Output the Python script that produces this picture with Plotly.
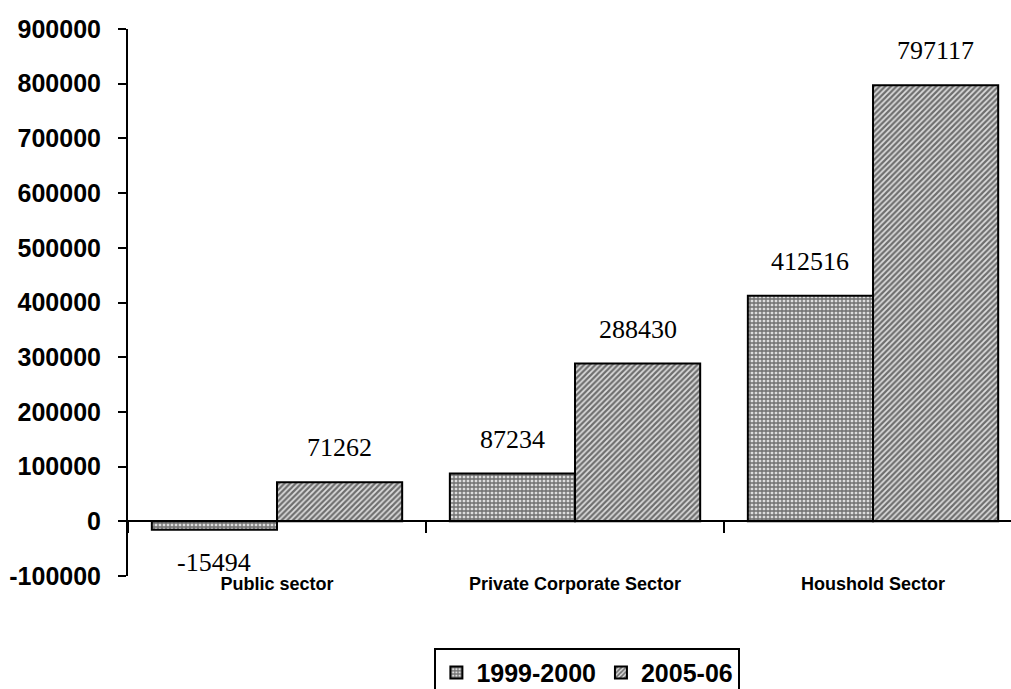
import plotly.graph_objects as go

# Sector values for the two survey years
sectors = ["Public sector", "Private Corporate Sector", "Houshold Sector"]
values_1999 = [-15494, 87234, 412516]
values_2005 = [71262, 288430, 797117]
series_names = ["1999-2000", "2005-06"]
y_ticks = [-100000, 0, 100000, 200000, 300000, 400000, 500000, 600000, 700000, 800000, 900000]

Y_MIN, Y_MAX = -100000, 900000
BARGAP = 0.16
X_RANGE = [-0.5, 2.463]

bold_sans = dict(family="Arial, Liberation Sans, sans-serif", size=25, color="black", weight="bold")
narrow_sans = dict(family="Liberation Sans Narrow, Arial Narrow, Liberation Sans, sans-serif",
                   size=18, color="black", weight="bold")
serif = dict(family="Times New Roman, Liberation Serif, serif", size=26, color="black")

fig = go.Figure()

fig.add_trace(go.Bar(
    name=series_names[0], x=sectors, y=values_1999,
    marker=dict(color="#dddddd", line=dict(color="black", width=2),
                pattern=dict(shape="+", size=4, solidity=0.55, fgcolor="black", bgcolor="#dddddd")),
))
fig.add_trace(go.Bar(
    name=series_names[1], x=sectors, y=values_2005,
    marker=dict(color="#dddddd", line=dict(color="black", width=2),
                pattern=dict(shape="/", size=4, solidity=0.55, fgcolor="black", bgcolor="#dddddd")),
))

# invisible helper trace so the zero-line axis is drawn
fig.add_trace(go.Scatter(x=sectors, y=[0, 0, 0], mode="none", xaxis="x2",
                         showlegend=False, hoverinfo="skip"))

# value labels above/below each bar
offset = (1 - BARGAP) / 4
for series, shift in ((values_1999, -offset), (values_2005, offset)):
    for i, v in enumerate(series):
        fig.add_annotation(
            x=i + shift, y=v, xref="x", yref="y", text=str(v), showarrow=False,
            font=serif, yanchor="bottom" if v >= 0 else "top",
            yshift=18 if v >= 0 else -16,
        )

zero_pos = (0 - Y_MIN) / (Y_MAX - Y_MIN)

fig.update_layout(
    width=1011, height=689,
    margin=dict(l=128, r=0, t=29, b=113),
    paper_bgcolor="white", plot_bgcolor="white",
    barmode="group", bargap=BARGAP, bargroupgap=0,
    xaxis=dict(type="category", categoryorder="array", categoryarray=sectors,
               range=X_RANGE, showline=False, ticks="", showgrid=False,
               tickfont=narrow_sans, ticklabelstandoff=-5),
    xaxis2=dict(type="category", categoryorder="array", categoryarray=sectors,
                range=X_RANGE, overlaying="x", anchor="free", position=zero_pos,
                showline=True, linecolor="black", linewidth=2,
                ticks="outside", tickson="boundaries", ticklen=11, tickwidth=2,
                tickcolor="black", showticklabels=False, showgrid=False),
    yaxis=dict(range=[Y_MIN, Y_MAX], tickvals=y_ticks, ticktext=[str(t) for t in y_ticks],
               showline=True, linecolor="black", linewidth=2,
               ticks="outside", ticklen=8, tickwidth=2, tickcolor="black",
               showgrid=False, zeroline=False, tickfont=bold_sans, ticklabelstandoff=12),
    legend=dict(orientation="h", xref="container", yref="container",
                x=0.581, xanchor="center", y=0.06, yanchor="top",
                bordercolor="black", borderwidth=2, font=bold_sans,
                itemwidth=30, bgcolor="white"),
    showlegend=True,
)

fig.write_html("out.html")
